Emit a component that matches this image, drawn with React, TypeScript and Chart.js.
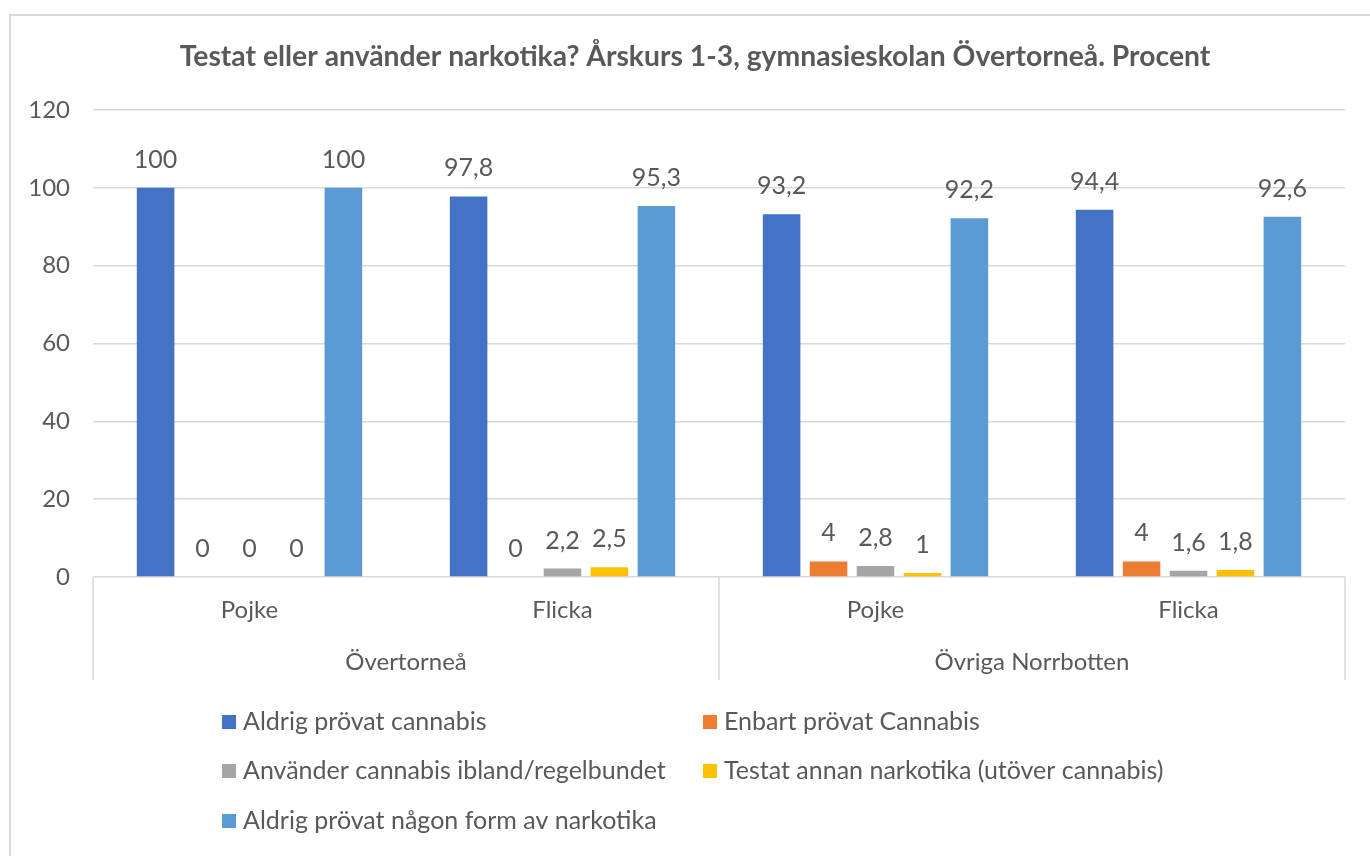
import React, { useEffect, useRef } from "react";
import { Chart, registerables } from "chart.js";

Chart.register(...registerables);

const TITLE = "Testat eller använder narkotika? Årskurs 1-3, gymnasieskolan Övertorneå. Procent";
const subCategories = ["Pojke", "Flicka", "Pojke", "Flicka"];
const groups = ["Övertorneå", "Övriga Norrbotten"];
const seriesNames = [
  "Aldrig prövat cannabis",
  "Enbart prövat Cannabis",
  "Använder cannabis ibland/regelbundet",
  "Testat annan narkotika (utöver cannabis)",
  "Aldrig prövat någon form av narkotika",
];
const seriesColors = ["#4472C4", "#ED7D31", "#A5A5A5", "#FFC000", "#5B9BD5"];
const aldrigCannabis = [100, 97.8, 93.2, 94.4];
const enbartCannabis = [0, 0, 4, 4];
const anvanderCannabis = [0, 2.2, 2.8, 1.6];
const annanNarkotika = [0, 2.5, 1, 1.8];
const aldrigNarkotika = [100, 95.3, 92.2, 92.6];
const seriesValues = [aldrigCannabis, enbartCannabis, anvanderCannabis, annanNarkotika, aldrigNarkotika];
const yTicks = [0, 20, 40, 60, 80, 100, 120];

const FONT = "Lato, 'Open Sans', sans-serif";
const TEXT = "#595959";
const LINE = "#D9D9D9";

const fmt = (v: number) => String(v).replace(".", ",");

const titlePlugin = {
  id: "frameTitle",
  afterDraw(chart: any) {
    const ctx = chart.ctx;
    ctx.save();
    ctx.font = `bold 28.3px ${FONT}`;
    ctx.fillStyle = TEXT;
    ctx.textAlign = "center";
    ctx.textBaseline = "middle";
    ctx.fillText(TITLE, (chart.width + 20) / 2, 57);
    ctx.restore();
  },
};

const dataLabelPlugin = {
  id: "dataLabels",
  afterDatasetsDraw(chart: any) {
    const ctx = chart.ctx;
    ctx.save();
    ctx.font = `25px ${FONT}`;
    ctx.fillStyle = TEXT;
    ctx.textAlign = "center";
    ctx.textBaseline = "middle";
    chart.data.datasets.forEach((ds: any, di: number) => {
      const meta = chart.getDatasetMeta(di);
      meta.data.forEach((el: any, i: number) => {
        ctx.fillText(fmt(ds.data[i]), el.x, el.y - 28);
      });
    });
    ctx.restore();
  },
};

const axisBoxPlugin = {
  id: "axisBox",
  afterDraw(chart: any) {
    const ctx = chart.ctx;
    const x = chart.scales.x;
    const x2 = chart.scales.x2;
    const mid = (x.getPixelForValue(1) + x.getPixelForValue(2)) / 2;
    ctx.save();
    ctx.strokeStyle = LINE;
    ctx.lineWidth = 1.5;
    [x.left, mid, x.right].forEach((px: number) => {
      ctx.beginPath();
      ctx.moveTo(px, x.top);
      ctx.lineTo(px, x2.bottom);
      ctx.stroke();
    });
    ctx.restore();
  },
};

const legendPlugin = {
  id: "gridLegend",
  afterDraw(chart: any) {
    const ctx = chart.ctx;
    const cols = [222, 703];
    const rows = [722, 771, 821];
    ctx.save();
    ctx.font = `25px ${FONT}`;
    ctx.textBaseline = "middle";
    ctx.textAlign = "left";
    seriesNames.forEach((name, i) => {
      const cx = cols[i % 2];
      const cy = rows[Math.floor(i / 2)];
      ctx.fillStyle = seriesColors[i];
      ctx.fillRect(cx, cy - 7, 14, 14);
      ctx.fillStyle = TEXT;
      ctx.fillText(name, cx + 21, cy);
    });
    ctx.restore();
  },
};

export default function App() {
  const ref = useRef<HTMLCanvasElement>(null);
  useEffect(() => {
    if (!ref.current) return;
    const chart = new Chart(ref.current, {
      type: "bar",
      data: {
        labels: subCategories,
        datasets: seriesNames.map((name, i) => ({
          label: name,
          data: seriesValues[i],
          backgroundColor: seriesColors[i],
          categoryPercentage: 0.75,
          barPercentage: 0.8,
          xAxisID: "x",
        })),
      },
      options: {
        responsive: false,
        animation: false,
        layout: { padding: { left: 0, right: 25, top: 110, bottom: 176 } },
        plugins: {
          legend: { display: false },
          tooltip: { enabled: false },
          title: { display: false },
        },
        scales: {
          x: {
            type: "category",
            position: "bottom",
            grid: { display: false, drawTicks: false },
            border: { display: false },
            ticks: { color: TEXT, font: { family: FONT, size: 24 }, padding: 19, maxRotation: 0 },
            afterFit: (s: any) => { s.height = 50; },
          },
          x2: {
            type: "category",
            position: "bottom",
            labels: groups,
            grid: { display: false, drawTicks: false },
            border: { display: false },
            ticks: { color: TEXT, font: { family: FONT, size: 24 }, padding: 21, maxRotation: 0 },
            afterFit: (s: any) => { s.height = 53; },
          },
          y: {
            min: 0,
            max: 120,
            afterBuildTicks: (s: any) => { s.ticks = yTicks.map((v) => ({ value: v })); },
            grid: { color: LINE, lineWidth: 1.5, drawTicks: false },
            border: { display: false },
            ticks: { color: TEXT, font: { family: FONT, size: 24 }, padding: 23 },
            afterFit: (s: any) => { s.width = 93; },
          },
        },
      },
      plugins: [titlePlugin, dataLabelPlugin, axisBoxPlugin, legendPlugin],
    });
    return () => chart.destroy();
  }, []);
  return (
    <div style={{ position: "absolute", left: 0, top: 0, width: 1370, height: 856, background: "#fff", overflow: "hidden" }}>
      <div style={{ position: "absolute", left: 9, top: 14, width: 1400, height: 900, border: "2px solid #D9D9D9", boxSizing: "border-box" }} />
      <canvas ref={ref} width={1370} height={856} style={{ position: "absolute", left: 0, top: 0 }} />
    </div>
  );
}
